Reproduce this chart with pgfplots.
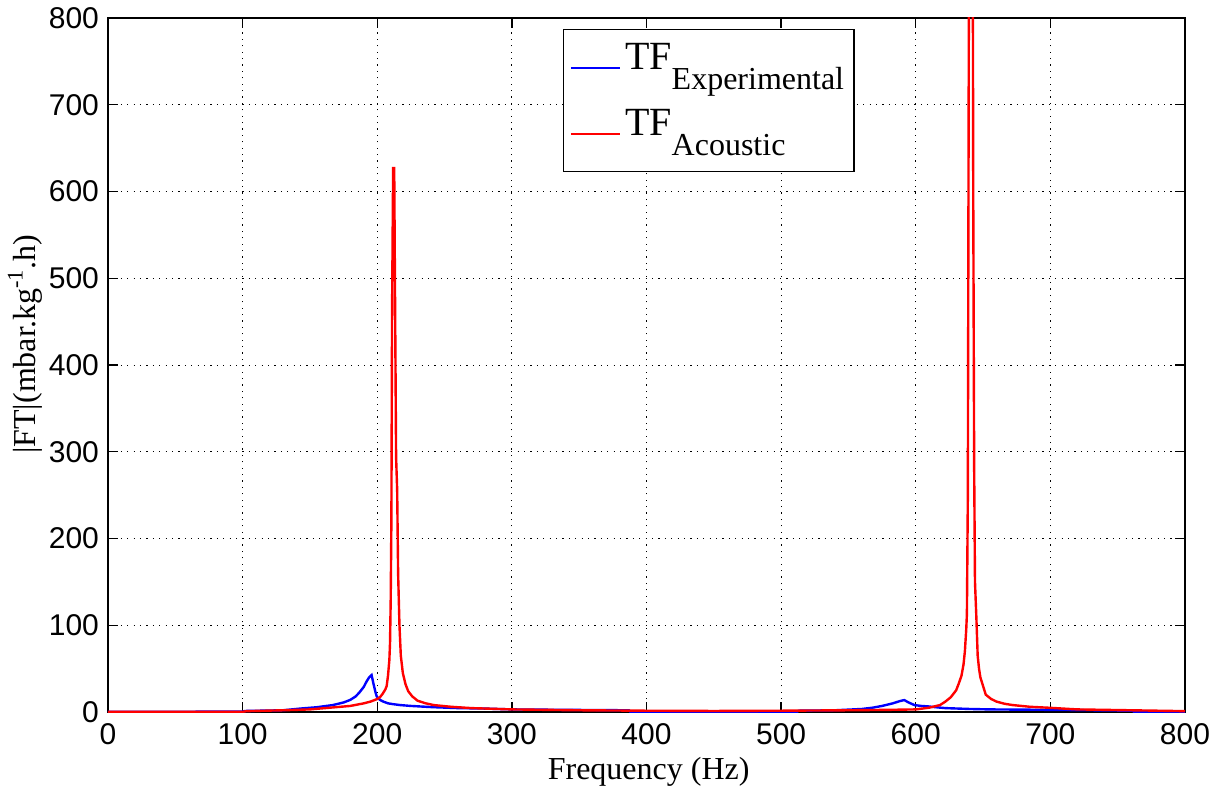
\documentclass[border=0pt]{standalone}
\usepackage{pgfplots}
\pgfplotsset{compat=1.18}
\usepackage{pgfplotstable}
\usepackage{fontspec}
\setmainfont{Liberation Serif}
\newfontfamily\arial{Liberation Sans}

\pgfplotstableread{
x y
0 0.3
50 0.3
100 0.5
102 1.2
130 2
143 4
155 5.5
167 8
175 11
180 14
184 18
187 23
190 29
192 35
194 40
195.8 42.6
197 34
198.5 24
199.6 18
202 14
204.5 12
208 10
212 9
217 8
225 7
241 5.6
260 4.5
279 4
300 3
340 2.5
387 2
388 0.3
512 0.3
513 1.5
540 2
560 3.5
568 5
575 7
583 10
588 12.5
591.5 13.8
594 11.5
599 8
604 7
609 6.5
615 5.5
622 4.5
640 3.5
655 3
700 2.5
761 1.5
762 0.3
800 0.3
}\blue

\pgfplotstableread{
x y
0 0.2
100 0.2
103 1
130 2
150 3
165 5
180 7
190 10
195 12
200 15
202 17
204 21
206 26
207 30
208 42
209 60
209.5 80
210 130
210.5 220
211 460
211.8 627
212.6 627
213.3 460
214 294
214.8 256
215.5 160
216.5 100
217.5 65
219 45
221 32
223 24
226 18
230 13
236 10
242 8
255 6
270 4.5
300 3
350 2
400 1.5
450 1.2
500 1.5
550 2
580 2.5
600 3
610 5
618 8
622 12
626 17
630 25
632 33
634 42
635.5 55
636.5 70
637.5 95
638 113
638.7 250
639.3 700
640 1200
641 1500
642 1200
642.7 600
643.4 280
644 150
645 110
646 65
647 50
648 40
650 30
652 20
656 15
660 12
666 9.5
672 8
685 6
698 5
720 3
760 2
800 1
}\red

\begin{document}
\begin{tikzpicture}
\begin{axis}[
  scale only axis,
  width=538.5pt, height=347pt,
  xmin=0, xmax=800, ymin=0, ymax=800,
  xtick={0,100,...,800}, ytick={0,100,...,800},
  tick align=inside,
  major tick length=5pt,
  axis line style={black, line width=0.7pt},
  tick style={black, line width=0.7pt},
  grid=major,
  major grid style={black, line width=0.5pt, dash pattern=on 0.6pt off 2.6pt},
  /pgf/number format/assume math mode=true,
  ticklabel style={font=\fontsize{15}{15}\selectfont\arial},
  yticklabel style={xshift=-1pt},
  xticklabel style={yshift=-2pt},
  xlabel={Frequency (Hz)},
  ylabel={|FT|(mbar.kg\textsuperscript{-1}.h)},
  label style={font=\fontsize{16}{16}\selectfont},
  xlabel style={at={(axis description cs:0.502,-0.086)}, anchor=center},
  ylabel style={at={(axis description cs:-0.077,0.53)}, anchor=center},
  legend style={at={(rel axis cs:0.4225,0.984)}, anchor=north west,
    draw=black, line width=0.6pt, fill=white, inner xsep=3pt, inner ysep=4pt,
    font=\fontsize{20}{20}\selectfont, row sep=3pt,
    nodes={inner xsep=2pt, inner ysep=2pt, text height=14pt, text depth=12pt}},
  legend cell align=left,
  legend image code/.code={\draw[#1, line width=1.2pt] (0pt,0pt) -- (24.5pt,0pt);},
]
\addplot[blue, line width=1.2pt] table[x=x,y=y] {\blue};
\addlegendentry{TF\raisebox{-10pt}{\fontsize{16}{16}\selectfont Experimental}}
\addplot[red, line width=1.2pt] table[x=x,y=y] {\red};
\addlegendentry{TF\raisebox{-10pt}{\fontsize{16}{16}\selectfont Acoustic}}
\end{axis}
\path (current axis.south west) ++(-54pt,-40.5pt);
\path (current axis.north east) ++(18.5pt,9pt);
\end{tikzpicture}
\end{document}
